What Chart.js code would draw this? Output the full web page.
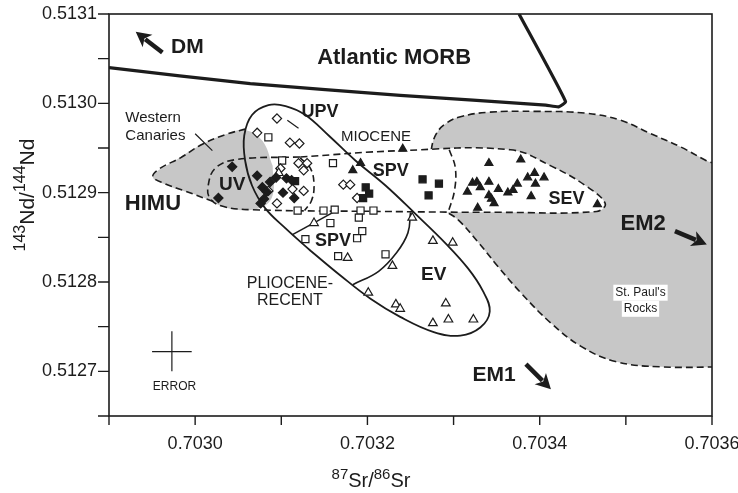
<!DOCTYPE html>
<html>
<head>
<meta charset="utf-8">
<title>Nd-Sr isotopes</title>
<script src="https://cdn.jsdelivr.net/npm/chart.js@4.4.1/dist/chart.umd.min.js"></script>
<style>
  html, body { margin: 0; padding: 0; background: #fff; }
</style>
</head>
<body>
<canvas id="isoChart" width="738" height="493"></canvas>
<script>
// axis ranges and tick labels
const xRange = [0.7029, 0.7036];
const yRange = [0.51265, 0.5131];
const xTickLabels = ['0.7030', '0.7032', '0.7034', '0.7036'];
const yTickLabels = ['0.5127', '0.5128', '0.5129', '0.5130', '0.5131'];

// samples: [87Sr/86Sr, 143Nd/144Nd]
const uvFilledDiamonds = [
  [0.703043, 0.512929], [0.703027, 0.512894], [0.703072, 0.512919], [0.703078, 0.512906],
  [0.703080, 0.512893], [0.703087, 0.512912], [0.703094, 0.512917], [0.703106, 0.512916],
  [0.703112, 0.512914], [0.703115, 0.512894], [0.703102, 0.512900], [0.703083, 0.512901],
  [0.703076, 0.512888]
];
const upvOpenDiamonds = [
  [0.703095, 0.512983], [0.703072, 0.512967], [0.703110, 0.512956], [0.703121, 0.512955],
  [0.703120, 0.512933], [0.703130, 0.512933], [0.703126, 0.512925], [0.703085, 0.512902],
  [0.703095, 0.512888], [0.703126, 0.512902], [0.703172, 0.512909], [0.703180, 0.512909],
  [0.703188, 0.512894], [0.703099, 0.512927], [0.703113, 0.512904]
];
const spvFilledSquares = [
  [0.703116, 0.512913], [0.703198, 0.512906], [0.703195, 0.512894], [0.703264, 0.512915],
  [0.703283, 0.512910], [0.703271, 0.512897], [0.703202, 0.512899]
];
const spvOpenSquares = [
  [0.703085, 0.512962], [0.703101, 0.512936], [0.703160, 0.512933], [0.703119, 0.512880],
  [0.703149, 0.512880], [0.703162, 0.512881], [0.703192, 0.512880], [0.703207, 0.512880],
  [0.703157, 0.512866], [0.703190, 0.512872], [0.703194, 0.512857], [0.703188, 0.512849],
  [0.703128, 0.512848], [0.703166, 0.512829], [0.703221, 0.512831]
];
const sevFilledTriangles = [
  [0.703192, 0.512933], [0.703183, 0.512925], [0.703241, 0.512949], [0.703341, 0.512933],
  [0.703378, 0.512937], [0.703322, 0.512911], [0.703327, 0.512912], [0.703341, 0.512912],
  [0.703331, 0.512906], [0.703316, 0.512901], [0.703352, 0.512904], [0.703341, 0.512897],
  [0.703344, 0.512893], [0.703347, 0.512888], [0.703363, 0.512900], [0.703369, 0.512903],
  [0.703374, 0.512910], [0.703386, 0.512917], [0.703394, 0.512922], [0.703405, 0.512917],
  [0.703395, 0.512910], [0.703390, 0.512896], [0.703328, 0.512883], [0.703467, 0.512887]
];
const evOpenTriangles = [
  [0.703097, 0.512922], [0.703138, 0.512866], [0.703177, 0.512827], [0.703229, 0.512818],
  [0.703252, 0.512872], [0.703276, 0.512846], [0.703299, 0.512844], [0.703201, 0.512788],
  [0.703233, 0.512775], [0.703238, 0.512770], [0.703291, 0.512776], [0.703294, 0.512758],
  [0.703276, 0.512754], [0.703323, 0.512758]
];

// field outlines
const morbField = [
  [0.702900, 0.513040], [0.703064, 0.513022], [0.703238, 0.513009], [0.703407, 0.512998],
  [0.703422, 0.512996], [0.703430, 0.513002], [0.703376, 0.513100]
];
const canaryVolcanics = [
  [0.703134, 0.512835], [0.703169, 0.512807], [0.703204, 0.512781], [0.703238, 0.512761],
  [0.703277, 0.512744], [0.703308, 0.512740], [0.703331, 0.512749], [0.703342, 0.512767],
  [0.703334, 0.512790], [0.703317, 0.512815], [0.703291, 0.512843], [0.703256, 0.512876],
  [0.703221, 0.512908], [0.703186, 0.512936], [0.703155, 0.512964], [0.703128, 0.512987],
  [0.703105, 0.512997], [0.703085, 0.512998], [0.703066, 0.512987], [0.703057, 0.512964],
  [0.703058, 0.512936], [0.703066, 0.512908], [0.703081, 0.512883], [0.703105, 0.512860],
  [0.703134, 0.512835]
];
const pliocenePart = [[0.703113, 0.512853], [0.703166, 0.512881]];
const evPart = [
  [0.703250, 0.512878], [0.703247, 0.512855], [0.703234, 0.512833], [0.703213, 0.512812],
  [0.703183, 0.512797]
];
const mioceneBand = [
  [0.703122, 0.512940], [0.703238, 0.512947], [0.703366, 0.512948], [0.703413, 0.512930],
  [0.703453, 0.512908], [0.703476, 0.512888], [0.703466, 0.512879], [0.703355, 0.512878],
  [0.703215, 0.512879], [0.703064, 0.512881], [0.703031, 0.512885], [0.703017, 0.512894],
  [0.703015, 0.512907], [0.703023, 0.512927], [0.703047, 0.512937], [0.703122, 0.512940]
];
const uvSpvDivide = [
  [0.703122, 0.512939], [0.703134, 0.512927], [0.703138, 0.512908], [0.703135, 0.512891],
  [0.703127, 0.512880]
];
const spvSevDivide = [
  [0.703295, 0.512948], [0.703302, 0.512928], [0.703301, 0.512902], [0.703294, 0.512879]
];
const westernCanariesFill = [
  [0.703090, 0.512930], [0.703090, 0.512897], [0.703076, 0.512883], [0.703041, 0.512882],
  [0.703006, 0.512896], [0.702971, 0.512907], [0.702951, 0.512918], [0.702977, 0.512936],
  [0.703006, 0.512953], [0.703035, 0.512965], [0.703058, 0.512970], [0.703078, 0.512958],
  [0.703090, 0.512930]
];
const westernCanariesEdge = [
  [0.703021, 0.512890], [0.702988, 0.512902], [0.702965, 0.512910], [0.702951, 0.512918],
  [0.702959, 0.512927], [0.702983, 0.512939], [0.703006, 0.512953], [0.703035, 0.512965],
  [0.703062, 0.512972]
];
const stPaulsRocks = [
  [0.703616, 0.512705], [0.703541, 0.512705], [0.703488, 0.512711], [0.703448, 0.512728],
  [0.703413, 0.512754], [0.703378, 0.512788], [0.703351, 0.512818], [0.703329, 0.512844],
  [0.703306, 0.512869], [0.703285, 0.512885], [0.703272, 0.512913], [0.703274, 0.512947],
  [0.703280, 0.512966], [0.703292, 0.512978], [0.703308, 0.512985], [0.703340, 0.512990],
  [0.703395, 0.512991], [0.703453, 0.512989], [0.703494, 0.512981], [0.703529, 0.512966],
  [0.703564, 0.512951], [0.703593, 0.512936], [0.703616, 0.512925], [0.703616, 0.512705]
];
const errorBarX = [[0.702950, 0.512722], [0.702996, 0.512722]];
const errorBarY = [[0.702973, 0.512700], [0.702973, 0.512745]];
const leaderLines = [
  [[0.703000, 0.512966], [0.703020, 0.512947]],
  [[0.703107, 0.512981], [0.703120, 0.512972]]
];

// annotations
const fieldLabels = [
  { text: 'DM', at: [0.702991, 0.513063], font: 'bold 21px' },
  { text: 'Atlantic MORB', at: [0.703231, 0.513051], font: 'bold 22px' },
  { text: 'Western', at: [0.702919, 0.512984], font: '15px', align: 'left' },
  { text: 'Canaries', at: [0.702919, 0.512964], font: '15px', align: 'left' },
  { text: 'UPV', at: [0.703145, 0.512990], font: 'bold 18px' },
  { text: 'MIOCENE', at: [0.703210, 0.512962], font: '15px' },
  { text: 'UV', at: [0.703043, 0.512909], font: 'bold 19px' },
  { text: 'SPV', at: [0.703227, 0.512924], font: 'bold 18px' },
  { text: 'SPV', at: [0.703160, 0.512846], font: 'bold 18px' },
  { text: 'SEV', at: [0.703431, 0.512893], font: 'bold 18px' },
  { text: 'HIMU', at: [0.702951, 0.512887], font: 'bold 22px' },
  { text: 'EV', at: [0.703277, 0.512808], font: 'bold 19px' },
  { text: 'EM2', at: [0.703520, 0.512865], font: 'bold 22px' },
  { text: 'PLIOCENE-', at: [0.703110, 0.512798], font: '16px' },
  { text: 'RECENT', at: [0.703110, 0.512779], font: '16px' },
  { text: "St. Paul's", at: [0.703517, 0.512788], font: '12px', box: true },
  { text: 'Rocks', at: [0.703517, 0.512770], font: '12px', box: true },
  { text: 'EM1', at: [0.703347, 0.512696], font: 'bold 21px' },
  { text: 'ERROR', at: [0.702976, 0.512683], font: '12px' }
];
const endMemberArrows = [
  { from: [0.702962, 0.513057], to: [0.702931, 0.513080] },
  { from: [0.703557, 0.512857], to: [0.703594, 0.512842] },
  { from: [0.703384, 0.512708], to: [0.703413, 0.512680] }
];

const FONT = "'Liberation Sans', Arial, Helvetica, sans-serif";
const INK = '#1c1c1c';
const SHADE = '#c7c7c7';

Chart.defaults.font.family = FONT;
Chart.defaults.color = INK;

const pts = arr => arr.map(([x, y]) => ({ x, y }));

function curve(data, opts) {
  return Object.assign({
    data: pts(data),
    showLine: true,
    pointRadius: 0,
    pointHoverRadius: 0,
    borderColor: INK,
    borderWidth: 2,
    tension: 0.4,
    fill: false
  }, opts);
}

function samples(data, style, filled, radius, order) {
  return {
    data: pts(data),
    pointStyle: style,
    radius: radius,
    backgroundColor: filled ? INK : '#fff',
    borderColor: INK,
    borderWidth: 1.2,
    order: order
  };
}

const dashed = [7, 4];

const datasets = [
  curve(stPaulsRocks, { fill: 'shape', backgroundColor: SHADE, borderDash: dashed, borderWidth: 1.6, order: 20 }),
  curve(mioceneBand, { fill: 'shape', backgroundColor: '#fff', borderWidth: 0, order: 19 }),
  curve(westernCanariesFill, { fill: 'shape', backgroundColor: SHADE, borderWidth: 0, order: 18 }),
  curve(mioceneBand, { borderDash: dashed, borderWidth: 1.6, order: 17 }),
  curve(westernCanariesEdge, { borderDash: dashed, borderWidth: 1.6, order: 16 }),
  curve(uvSpvDivide, { borderDash: dashed, borderWidth: 1.6, order: 15 }),
  curve(spvSevDivide, { borderDash: dashed, borderWidth: 1.6, order: 15 }),
  curve(canaryVolcanics, { borderWidth: 1.8, order: 14 }),
  curve(pliocenePart, { borderWidth: 1.6, tension: 0, order: 14 }),
  curve(evPart, { borderWidth: 1.6, order: 14 }),
  curve(morbField, { borderWidth: 3.2, tension: 0.15, order: 14 }),
  curve(errorBarX, { borderWidth: 1.2, tension: 0, order: 14 }),
  curve(errorBarY, { borderWidth: 1.2, tension: 0, order: 14 }),
  ...leaderLines.map(l => curve(l, { borderWidth: 1.2, tension: 0, order: 14 })),
  samples(spvOpenSquares, 'rect', false, 5, 6),
  samples(upvOpenDiamonds, 'rectRot', false, 4.6, 5),
  samples(evOpenTriangles, 'triangle', false, 5, 4),
  samples(spvFilledSquares, 'rect', true, 5, 3),
  samples(sevFilledTriangles, 'triangle', true, 4.6, 2),
  samples(uvFilledDiamonds, 'rectRot', true, 4.6, 1)
];

function nearLabel(v, list) {
  return list.find(l => Math.abs(parseFloat(l) - v) < 1e-8);
}

function drawArrow(ctx, x0, y0, x1, y1) {
  const ang = Math.atan2(y1 - y0, x1 - x0);
  const head = 15, half = 8;
  const bx = x1 - Math.cos(ang) * head, by = y1 - Math.sin(ang) * head;
  ctx.strokeStyle = INK;
  ctx.lineWidth = 4.5;
  ctx.beginPath();
  ctx.moveTo(x0, y0);
  ctx.lineTo(bx + Math.cos(ang) * 3, by + Math.sin(ang) * 3);
  ctx.stroke();
  ctx.fillStyle = INK;
  ctx.beginPath();
  ctx.moveTo(x1, y1);
  ctx.lineTo(bx - Math.sin(ang) * half, by + Math.cos(ang) * half);
  ctx.lineTo(bx + Math.cos(ang) * 4, by + Math.sin(ang) * 4);
  ctx.lineTo(bx + Math.sin(ang) * half, by - Math.cos(ang) * half);
  ctx.closePath();
  ctx.fill();
}

// text with superscript parts: [[text, isSup], ...]
function richText(ctx, parts, x, y, big, small, align) {
  const widths = parts.map(([t, sup]) => {
    ctx.font = (sup ? small : big) + 'px ' + FONT;
    return ctx.measureText(t).width;
  });
  const total = widths.reduce((a, b) => a + b, 0);
  let cx = align === 'center' ? x - total / 2 : x;
  ctx.textBaseline = 'alphabetic';
  ctx.textAlign = 'left';
  parts.forEach(([t, sup], i) => {
    ctx.font = (sup ? small : big) + 'px ' + FONT;
    ctx.fillText(t, cx, sup ? y - big * 0.42 : y);
    cx += widths[i];
  });
}

const overlay = {
  id: 'overlay',
  afterDatasetsDraw(chart) {
    const { ctx, scales: { x, y } } = chart;
    ctx.save();
    endMemberArrows.forEach(a => drawArrow(ctx,
      x.getPixelForValue(a.from[0]), y.getPixelForValue(a.from[1]),
      x.getPixelForValue(a.to[0]), y.getPixelForValue(a.to[1])));
    fieldLabels.forEach(l => {
      const px = x.getPixelForValue(l.at[0]);
      const py = y.getPixelForValue(l.at[1]);
      ctx.font = l.font + ' ' + FONT;
      ctx.textAlign = l.align || 'center';
      ctx.textBaseline = 'middle';
      if (l.box) {
        const w = ctx.measureText(l.text).width;
        ctx.fillStyle = '#fff';
        ctx.fillRect(px - w / 2 - 2, py - 8, w + 4, 16);
      }
      ctx.fillStyle = INK;
      ctx.fillText(l.text, px, py);
    });
    ctx.restore();
  },
  afterDraw(chart) {
    const { ctx, chartArea: a, scales: { x, y } } = chart;
    ctx.save();
    ctx.strokeStyle = INK;
    ctx.lineWidth = 1.6;
    ctx.strokeRect(a.left, a.top, a.right - a.left, a.bottom - a.top);
    ctx.lineWidth = 1.4;
    ctx.beginPath();
    x.ticks.forEach(t => {
      const px = x.getPixelForValue(t.value);
      ctx.moveTo(px, a.bottom);
      ctx.lineTo(px, a.bottom + 9);
    });
    y.ticks.forEach(t => {
      const py = y.getPixelForValue(t.value);
      ctx.moveTo(a.left - 11, py);
      ctx.lineTo(a.left, py);
    });
    ctx.stroke();
    ctx.fillStyle = INK;
    richText(ctx, [['87', true], ['Sr/', false], ['86', true], ['Sr', false]], 371, 487, 20, 15, 'center');
    ctx.translate(34, 195);
    ctx.rotate(-Math.PI / 2);
    richText(ctx, [['143', true], ['Nd/', false], ['144', true], ['Nd', false]], 0, 0, 21, 16, 'center');
    ctx.restore();
  }
};

new Chart(document.getElementById('isoChart'), {
  type: 'scatter',
  data: { datasets },
  options: {
    responsive: false,
    animation: false,
    devicePixelRatio: 1,
    layout: { autoPadding: false, padding: { left: 0, top: 14, right: 26, bottom: 0 } },
    plugins: { legend: { display: false }, tooltip: { enabled: false } },
    scales: {
      x: {
        type: 'linear',
        min: xRange[0],
        max: xRange[1],
        grid: { display: false },
        border: { display: false },
        afterFit: s => {
          s.height = 77;
          s.paddingLeft = 0;
          s.paddingRight = 0;
        },
        ticks: {
          stepSize: 0.0001,
          padding: 9,
          font: { size: 18 },
          color: INK,
          maxRotation: 0,
          autoSkip: false,
          callback: v => nearLabel(v, xTickLabels) || ''
        }
      },
      y: {
        type: 'linear',
        min: yRange[0],
        max: yRange[1],
        grid: { display: false },
        border: { display: false },
        afterFit: s => {
          s.width = 109;
          s.paddingTop = 0;
          s.paddingBottom = 0;
        },
        ticks: {
          stepSize: 0.00005,
          padding: 4,
          font: { size: 18 },
          color: INK,
          autoSkip: false,
          callback: v => nearLabel(v, yTickLabels) || ''
        }
      }
    }
  },
  plugins: [overlay]
});
</script>
</body>
</html>
